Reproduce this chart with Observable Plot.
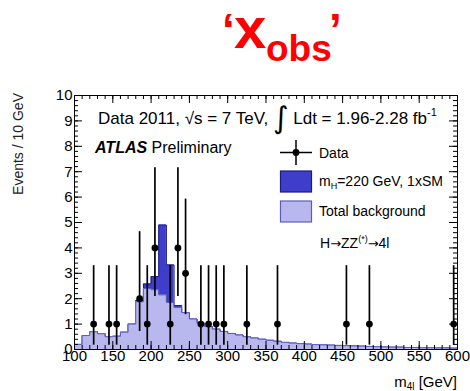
<!DOCTYPE html>
<html><head><meta charset="utf-8">
<script src="https://cdn.jsdelivr.net/npm/d3@7"></script>
<script src="https://cdn.jsdelivr.net/npm/@observablehq/plot@0.6"></script>
<style>
body{margin:0;background:#fff;font-family:"Liberation Sans",Arial,sans-serif;}
#title{position:relative;width:470px;height:80px;color:#ff0000;font-weight:bold;overflow:visible;}
#title span{position:absolute;line-height:0.8;white-space:nowrap;}
svg text{white-space:pre;}
</style></head><body>
<div id="title"><span style="left:222px;top:12px;font-size:46px">‘</span><span style="left:234px;top:5px;font-size:58px">x</span><span style="left:266px;top:33.6px;font-size:37px">obs</span><span style="left:329px;top:12px;font-size:46px">’</span></div>
<div id="chart"></div>
<script>
// ---- data ----
const binLow = [100,110,120,130,140,150,160,170,180,190,200,210,220,230,240,250,260,270,280,290,
                300,310,320,330,340,350,360,370,380,390,400,410,420,430,440,450,460,470,480,490,
                500,510,520,530,540,550,560,570,580,590];
const binUpper = 600;
const background = [0.2,0.55,0.7,0.62,0.5,0.52,0.68,1.0,1.88,2.4,2.35,2.15,1.85,1.65,1.45,1.2,1.03,0.9,0.8,0.71,
                    0.63,0.57,0.5,0.45,0.4,0.36,0.32,0.28,0.25,0.23,0.21,0.19,0.18,0.17,0.16,0.15,0.14,0.13,0.12,0.11,
                    0.10,0.09,0.09,0.08,0.08,0.07,0.07,0.06,0.06,0.05];
const signal = [0,0,0,0,0,0,0,0,0.05,0.18,0.52,2.75,1.48,0.08,0,0,0,0,0,0,
                0,0,0,0,0,0,0,0,0,0,0,0,0,0,0,0,0,0,0,0,
                0,0,0,0,0,0,0,0,0,0];
const dataMass  = [125,145,155,185,195,205,225,235,245,265,275,285,295,325,365,455,485,595];
const dataCount = [1,1,1,2,1,4,1,4,3,1,1,1,1,1,1,1,1,1];
const errLow    = [0.17,0.17,0.17,0.71,0.17,2.09,0.17,2.09,1.37,0.17,0.17,0.17,0.17,0.17,0.17,0.17,0.17,0.17];
const errHigh   = [3.3,3.3,3.3,4.64,3.3,7.16,3.3,7.16,5.92,3.3,3.3,3.3,3.3,3.3,3.3,3.3,3.3,3.3];
const xTickLabels = [100,150,200,250,300,350,400,450,500,550,600];
const yTickLabels = [0,1,2,3,4,5,6,7,8,9,10];

// ---- tables ----
const edges = [...binLow, binUpper];
const last = background.length - 1;
const bgSteps = edges.map((x, i) => ({x, y: background[Math.min(i, last)]}));
const totSteps = edges.map((x, i) => ({x, y: background[Math.min(i, last)] + signal[Math.min(i, last)]}));
const points = dataMass.map((m, i) => ({m, n: dataCount[i], lo: errLow[i], hi: errHigh[i]}));
const xMinor = d3.range(100, 601, 10);
const yMinor = d3.range(0, 51).map(i => i / 5);

// ---- style ----
const FONT = '"Liberation Sans", Arial, Helvetica, sans-serif';
const lightFill = "#b8b8ee", lightLine = "#5c5cc0";
const darkFill = "#3e3ecb", darkLine = "#1c1c88";
const W = 470, H = 311, mT = 15, mB = 42, mL = 74, mR = 13;
const fw = W - mL - mR, fh = H - mT - mB;

const svg = Plot.plot({
  width: W, height: H,
  marginTop: mT, marginBottom: mB, marginLeft: mL, marginRight: mR,
  style: {fontFamily: FONT, fontSize: "15px", color: "#000", background: "#fff", overflow: "visible"},
  x: {domain: [100, 600]},
  y: {domain: [0, 10]},
  marks: [
    Plot.areaY(totSteps, {x: "x", y: "y", curve: "step-after", fill: darkFill}),
    Plot.lineY(totSteps, {x: "x", y: "y", curve: "step-after", stroke: darkLine, strokeWidth: 1}),
    Plot.areaY(bgSteps, {x: "x", y: "y", curve: "step-after", fill: lightFill}),
    Plot.lineY(bgSteps, {x: "x", y: "y", curve: "step-after", stroke: lightLine, strokeWidth: 1}),
    Plot.ruleX(points, {x: "m", y1: "lo", y2: "hi", stroke: "#000", strokeWidth: 1.7}),
    Plot.dot(points, {x: "m", y: "n", r: 3.4, fill: "#000"}),
    Plot.frame({stroke: "#000", strokeWidth: 1}),
    Plot.tickX(xMinor, {x: d => d, insetTop: fh - 4, stroke: "#000"}),
    Plot.tickX(xTickLabels, {x: d => d, insetTop: fh - 8, stroke: "#000"}),
    Plot.tickX(xMinor, {x: d => d, insetBottom: fh - 4, stroke: "#000"}),
    Plot.tickX(xTickLabels, {x: d => d, insetBottom: fh - 8, stroke: "#000"}),
    Plot.tickY(yMinor, {y: d => d, insetRight: fw - 4, stroke: "#000"}),
    Plot.tickY(yTickLabels, {y: d => d, insetRight: fw - 8, stroke: "#000"}),
    Plot.tickY(yMinor, {y: d => d, insetLeft: fw - 4, stroke: "#000"}),
    Plot.tickY(yTickLabels, {y: d => d, insetLeft: fw - 8, stroke: "#000"}),
    Plot.axisX(xTickLabels, {anchor: "bottom", tickSize: 0, tickPadding: 1, fontSize: 15, label: null}),
    Plot.axisY(yTickLabels, {anchor: "left", tickSize: 0, tickPadding: 2, fontSize: 15, label: null})
  ]
});
document.getElementById("chart").appendChild(svg);

// ---- annotations ----
const g = d3.select(svg).append("g").attr("font-family", FONT).attr("fill", "#000")
  .attr("text-anchor", "start");

// header
const t = g.append("text").attr("x", 98).attr("y", 43.5).attr("font-size", 17);
t.append("tspan").text("Data 2011, √s = 7 TeV, ");
t.append("tspan").attr("font-size", 30).attr("font-family", "DejaVu Sans").attr("dy", 4).text("∫");
t.append("tspan").attr("dy", -4).text(" Ldt = 1.96-2.28 fb");
t.append("tspan").attr("font-size", 11).attr("dy", -8).text("-1");

const a = g.append("text").attr("x", 95).attr("y", 73).attr("font-size", 16);
a.append("tspan").attr("font-weight", "bold").attr("font-style", "italic").text("ATLAS");
a.append("tspan").text(" Preliminary");

// legend
g.append("line").attr("x1", 280).attr("x2", 312).attr("y1", 72.5).attr("y2", 72.5).attr("stroke", "#000").attr("stroke-width", 1.5);
g.append("line").attr("x1", 296).attr("x2", 296).attr("y1", 60).attr("y2", 85).attr("stroke", "#000").attr("stroke-width", 1.5);
g.append("circle").attr("cx", 296).attr("cy", 72.5).attr("r", 3.4);
g.append("text").attr("x", 319).attr("y", 77.5).attr("font-size", 14).text("Data");

g.append("rect").attr("x", 280.5).attr("y", 91).attr("width", 31).attr("height", 21)
  .attr("fill", darkFill).attr("stroke", darkLine).attr("stroke-width", 1.2);
const s = g.append("text").attr("x", 319).attr("y", 106).attr("font-size", 14);
s.append("tspan").text("m");
s.append("tspan").attr("font-size", 9).attr("dy", 3).text("H");
s.append("tspan").attr("dy", -3).text("=220 GeV, 1xSM");

g.append("rect").attr("x", 280.5).attr("y", 121).attr("width", 31).attr("height", 21)
  .attr("fill", lightFill).attr("stroke", lightLine).attr("stroke-width", 1.2);
g.append("text").attr("x", 319).attr("y", 136).attr("font-size", 14).text("Total background");

const h = g.append("text").attr("x", 320).attr("y", 168).attr("font-size", 14);
h.append("tspan").text("H");
h.append("tspan").attr("font-family", "DejaVu Sans").attr("font-size", 13).text("→");
h.append("tspan").text("ZZ");
h.append("tspan").attr("font-size", 9).attr("dy", -6).text("(*)");
h.append("tspan").attr("dy", 6).attr("font-family", "DejaVu Sans").attr("font-size", 13).text("→");
h.append("tspan").text("4l");

// axis titles
const xt = g.append("text").attr("x", 457).attr("y", 307).attr("font-size", 15).attr("text-anchor", "end");
xt.append("tspan").text("m");
xt.append("tspan").attr("font-size", 10).attr("dy", 3).text("4l");
xt.append("tspan").attr("dy", -3).text(" [GeV]");

g.append("text").attr("transform", "translate(23,13) rotate(-90)").attr("text-anchor", "end")
  .attr("font-size", 14).attr("fill", "#222").text("Events / 10 GeV");
</script>
</body></html>
